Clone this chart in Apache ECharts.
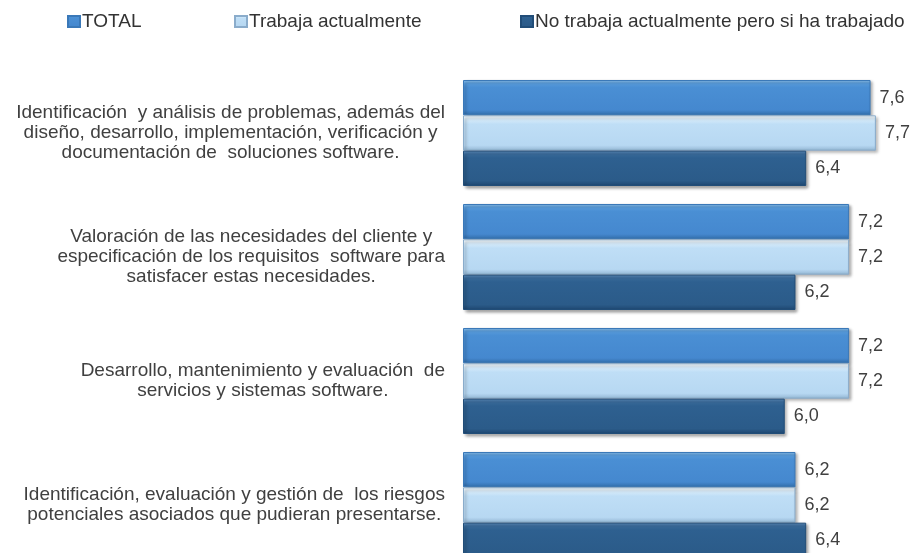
<!DOCTYPE html>
<html>
<head>
<meta charset="utf-8">
<script src="https://cdn.jsdelivr.net/npm/echarts@6/dist/echarts.min.js"></script>
<style>
  html, body { margin: 0; padding: 0; background: #ffffff; }
  #chart { width: 913px; height: 553px; }
</style>
</head>
<body>
<div id="chart"></div>
<script>
// Competencias evaluadas (de arriba a abajo)
const categories = [
  'Identificación  y análisis de problemas, además del\ndiseño, desarrollo, implementación, verificación y\ndocumentación de  soluciones software.',
  'Valoración de las necesidades del cliente y\nespecificación de los requisitos  software para\nsatisfacer estas necesidades.',
  'Desarrollo, mantenimiento y evaluación  de\nservicios y sistemas software.',
  'Identificación, evaluación y gestión de  los riesgos\npotenciales asociados que pudieran presentarse.'
];

const seriesNames = ['TOTAL', 'Trabaja actualmente', 'No trabaja actualmente pero si ha trabajado'];

const totalValues = [7.6, 7.2, 7.2, 6.2];
const trabajaValues = [7.7, 7.2, 7.2, 6.2];
const noTrabajaValues = [6.4, 6.2, 6.0, 6.4];

const FONT = 'Liberation Sans, Arial, sans-serif';

function vGrad(stops) {
  return new echarts.graphic.LinearGradient(0, 0, 0, 1,
    stops.map(s => ({ offset: s[0], color: s[1] })));
}

const palette = [
  vGrad([[0, '#8cc3f0'], [0.1, '#5a9fe0'], [0.2, '#4a8fd4'], [0.85, '#4588cf'], [1, '#316ca8']]),
  vGrad([[0, '#ffffff'], [0.12, '#d6ebfa'], [0.25, '#bfdef6'], [0.85, '#b7d8f2'], [1, '#93b6d3']]),
  vGrad([[0, '#5e8fc0'], [0.1, '#3b6d9e'], [0.2, '#2e6090'], [0.85, '#2b5b89'], [1, '#1e4670']])
];

const borderColors = ['#3a78b8', '#8aaccb', '#214d78'];

function lineWrap(text) {
  return text.split('\n').map(l => '{c|' + l + '}').join('\n');
}

const valueLists = [totalValues, trabajaValues, noTrabajaValues];

const series = seriesNames.map((name, i) => ({
  name: name,
  type: 'bar',
  data: valueLists[i],
  barGap: '0%',
  barCategoryGap: '14.5%',
  itemStyle: {
    color: palette[i],
    borderColor: borderColors[i],
    borderWidth: 1,
    shadowColor: 'rgba(0,0,0,0.35)',
    shadowBlur: 3,
    shadowOffsetX: 2,
    shadowOffsetY: 2
  },
  label: {
    show: true,
    position: 'right',
    distance: 9,
    fontFamily: FONT,
    fontSize: 18,
    color: '#404040',
    formatter: p => p.value.toFixed(1).replace('.', ',')
  }
}));

const legendLefts = [67, 234, 520];

const chart = echarts.init(document.getElementById('chart'), null, { renderer: 'canvas' });
chart.setOption({
  backgroundColor: '#ffffff',
  animation: false,
  legend: seriesNames.map((name, i) => ({
    data: [name],
    left: legendLefts[i],
    top: 12,
    icon: 'rect',
    itemWidth: 12,
    itemHeight: 11,
    padding: 0,
    selectedMode: false,
    textStyle: { fontFamily: FONT, fontSize: 19, color: '#333333', padding: [2, 0, 0, -3] }
  })),
  grid: { left: 463, top: 71, width: 429, bottom: -14, outerBoundsMode: 'none', containLabel: false },
  xAxis: {
    type: 'value',
    min: 0,
    max: 8,
    show: false
  },
  yAxis: {
    type: 'category',
    data: categories,
    inverse: true,
    axisLine: { show: false },
    axisTick: { show: false },
    axisLabel: {
      margin: 18,
      fontFamily: FONT,
      fontSize: 19,
      color: '#404040',
      lineHeight: 20,
      formatter: v => lineWrap(v),
      rich: {
        c: { align: 'center', fontFamily: FONT, fontSize: 19, color: '#404040', lineHeight: 20 }
      }
    }
  },
  series: series
});
</script>
</body>
</html>
